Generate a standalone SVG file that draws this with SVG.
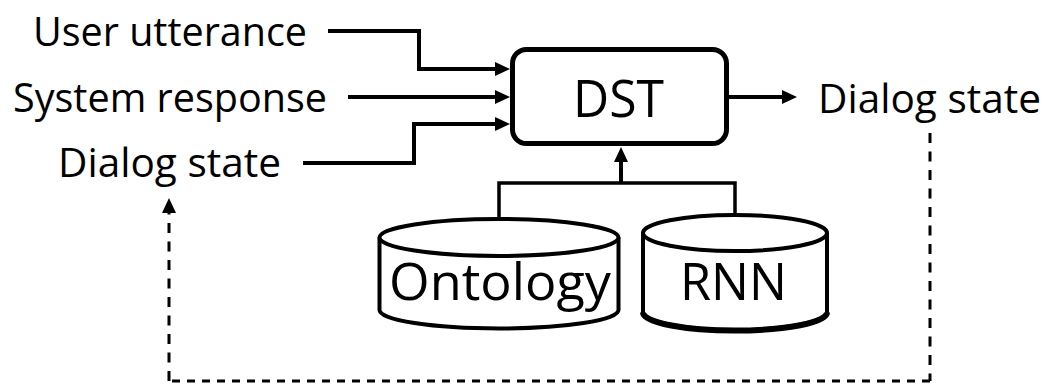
<svg xmlns="http://www.w3.org/2000/svg" width="1046" height="384" viewBox="0 0 1046 384">
  <defs>
    <style>
      .lbl { font-family: "Open Sans", "Noto Sans", "DejaVu Sans", sans-serif; fill: #000; }
      .io { font-size: 40px; }
      .big { font-size: 52px; }
      .wire { fill: none; stroke: #000; stroke-width: 4; stroke-linejoin: miter; }
      .bus { fill: none; stroke: #000; stroke-width: 3.5; }
      .loop { fill: none; stroke: #000; stroke-width: 3; stroke-dasharray: 10 8.5; }
      .loop-h { fill: none; stroke: #000; stroke-width: 3; stroke-dasharray: 8 7; }
      .shape { fill: #fff; stroke: #000; stroke-width: 4; }
    </style>
    <marker id="ah" markerUnits="userSpaceOnUse" markerWidth="16" markerHeight="15" refX="9" refY="7" orient="auto">
      <path d="M0,0 L15,7 L0,14 z" fill="#000"/>
    </marker>
  </defs>

  <rect width="1046" height="384" fill="#fff"/>

  <!-- connectors -->
  <g id="connectors">
    <path class="wire" d="M328,31 H419 V69 H504" marker-end="url(#ah)"/>
    <path class="wire" d="M348,97 H504" marker-end="url(#ah)"/>
    <path class="wire" d="M303,163 H414 V124 H504" marker-end="url(#ah)"/>
    <path class="wire" d="M729,97 H791" marker-end="url(#ah)"/>
    <path class="bus" d="M499,217 V183 H735 V213"/>
    <path class="wire" d="M621,183 V153" marker-end="url(#ah)"/>
    <!-- feedback loop: state goes back to the input side -->
    <path class="loop" d="M930,133 V381"/>
    <path class="loop-h" d="M930,381 H169"/>
    <path class="loop" d="M169,381 V204" marker-end="url(#ah)"/>
  </g>

  <!-- input / output labels -->
  <g id="user-utterance">
    <text class="lbl io" x="33" y="45.5" textLength="274" lengthAdjust="spacingAndGlyphs">User utterance</text>
  </g>
  <g id="system-response">
    <text class="lbl io" x="13" y="111.5" textLength="314" lengthAdjust="spacingAndGlyphs">System response</text>
  </g>
  <g id="dialog-state-in">
    <text class="lbl io" x="58" y="176.5" textLength="223" lengthAdjust="spacingAndGlyphs">Dialog state</text>
  </g>
  <g id="dialog-state-out">
    <text class="lbl io" x="818" y="113" textLength="223" lengthAdjust="spacingAndGlyphs">Dialog state</text>
  </g>

  <!-- tracker block -->
  <g id="dst">
    <rect x="512.5" y="49.5" width="214" height="94" rx="14" ry="14" fill="#fff" stroke="#000" stroke-width="5"/>
    <text class="lbl big" x="573" y="117" textLength="91" lengthAdjust="spacingAndGlyphs">DST</text>
  </g>

  <!-- knowledge sources -->
  <g id="ontology">
    <path class="shape" d="M379.5,237.5 V310 A119.5,18.5 0 0 0 618.5,310 V237.5"/>
    <ellipse class="shape" cx="499" cy="237.5" rx="119.5" ry="18.5"/>
    <text class="lbl big" x="389" y="300" font-size="51" textLength="222" lengthAdjust="spacingAndGlyphs">Ontology</text>
  </g>
  <g id="rnn">
    <path class="shape" d="M643,233 V312 A92,18 0 0 0 827,312 V233"/>
    <path d="M643,312.5 A92,18 0 0 0 827,312.5" fill="none" stroke="#000" stroke-width="6"/>
    <ellipse class="shape" cx="735" cy="233" rx="92" ry="18"/>
    <text class="lbl big" x="680" y="300" font-size="51" textLength="107" lengthAdjust="spacingAndGlyphs">RNN</text>
  </g>
</svg>
